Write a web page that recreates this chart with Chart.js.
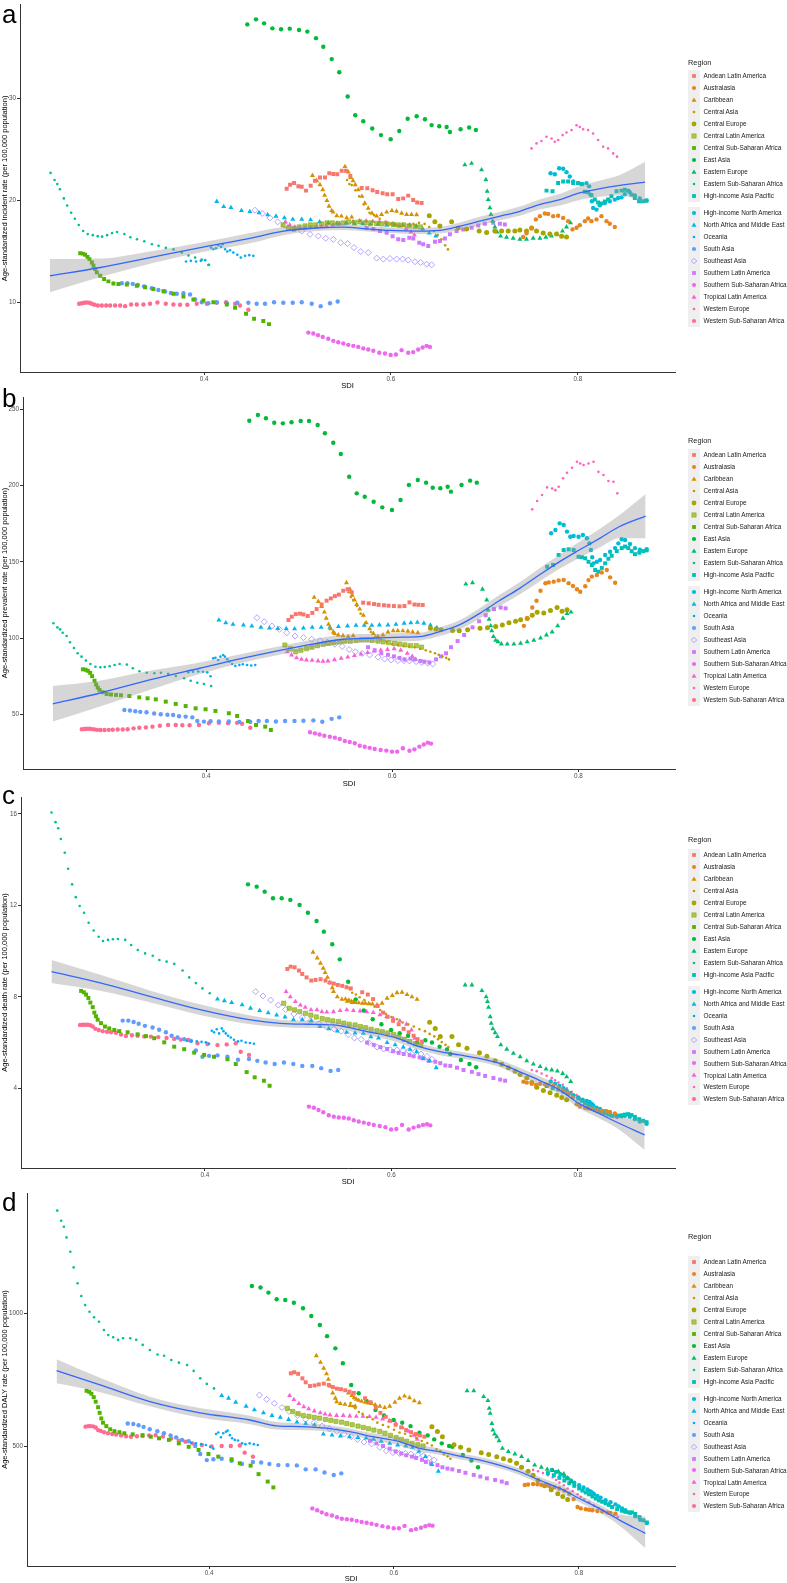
<!DOCTYPE html>
<html>
<head>
<meta charset="utf-8">
<script src="https://cdn.jsdelivr.net/npm/chart.js@4.4.1/dist/chart.umd.min.js"></script>
<style>
  body { margin: 0; background: #fff; width: 787px; height: 1583px; position: relative; overflow: hidden;
         font-family: "Liberation Sans", Arial, sans-serif; }
  canvas { position: absolute; left: 0; }
  .tag { position: absolute; left: 2px; font-size: 26px; line-height: 1; color: #000; }
  .legend { position: absolute; left: 688px; color: #1a1a1a; }
  .legend .ttl { position: absolute; left: 0; font-size: 7.4px; white-space: nowrap; }
  .legend .item { position: absolute; left: 0; height: 12px; white-space: nowrap; font-size: 6.4px; }
  .legend .item svg { position: absolute; left: 0; top: 0; }
  .legend .item span { position: absolute; left: 15.5px; top: 2.2px; }
</style>
</head>
<body>

<canvas id="chartA" width="787" height="392" style="top:0px"></canvas>
<canvas id="chartB" width="787" height="396" style="top:392px"></canvas>
<canvas id="chartC" width="787" height="398" style="top:788px"></canvas>
<canvas id="chartD" width="787" height="397" style="top:1186px"></canvas>

<div class="tag" style="top:1px">a</div>
<div class="tag" style="top:385px">b</div>
<div class="tag" style="top:782px">c</div>
<div class="tag" style="top:1189px">d</div>

<div id="legA" class="legend"></div>
<div id="legB" class="legend"></div>
<div id="legC" class="legend"></div>
<div id="legD" class="legend"></div>

<script>
// Regions, colours and shapes
// ///////////////////////////

const regions = ["Andean Latin America", "Australasia", "Caribbean", "Central Asia", "Central Europe",
  "Central Latin America", "Central Sub-Saharan Africa", "East Asia", "Eastern Europe",
  "Eastern Sub-Saharan Africa", "High-income Asia Pacific", "High-income North America",
  "North Africa and Middle East", "Oceania", "South Asia", "Southeast Asia", "Southern Latin America",
  "Southern Sub-Saharan Africa", "Tropical Latin America", "Western Europe", "Western Sub-Saharan Africa"];

const colors = ["#F8766D", "#E7851E", "#D69100", "#C49A00", "#A8A400", "#86AC00", "#53B400", "#00BA38",
  "#00BE6C", "#00C094", "#00C0B8", "#00BCD8", "#00B6EB", "#00ABFD", "#619CFF", "#A58AFF",
  "#CF78FF", "#ED68ED", "#FB61D7", "#FF62BE", "#FF6C91"];

const shapes = ["square", "circle", "triangle", "dot", "bigcircle", "boxsquare", "square", "circle",
  "triangle", "dot", "square", "circle", "triangle", "dot", "circle", "diamond", "square", "circle",
  "triangle", "dot", "circle"];

// SDI of each region (same for every panel)
const sdi = [
  [0.4884,0.4920,0.4963,0.5009,0.5045,0.5091,0.5141,0.5187,0.5241,0.5294,0.5340,0.5383,0.5426,0.5473,0.5519,0.5565,0.5687,0.5747,0.5804,0.5853,0.5911,0.5960,0.6018,0.6078,0.6131,0.6185,0.6238,0.6281,0.6328],
  [0.7415,0.7451,0.7505,0.7551,0.7594,0.7647,0.7682,0.7736,0.7789,0.7843,0.7896,0.7943,0.7986,0.8021,0.8075,0.8110,0.8146,0.8200,0.8253,0.8307,0.8342,0.8396],
  [0.516,0.5205,0.524,0.527,0.529,0.5315,0.5337,0.5366,0.538,0.542,0.547,0.5526,0.558,0.5508,0.5544,0.557,0.5594,0.5618,0.565,0.569,0.572,0.5757,0.5797,0.5847,0.59,0.5954,0.601,0.606,0.6114,0.6168,0.622,0.6275],
  [0.553,0.5555,0.558,0.562,0.566,0.571,0.577,0.582,0.588,0.594,0.600,0.606,0.612,0.618,0.624,0.630,0.636,0.641,0.646,0.650,0.654,0.658,0.661],
  [0.641,0.647,0.6524,0.6649,0.672,0.681,0.6944,0.7024,0.7112,0.7184,0.7255,0.7326,0.738,0.7451,0.7505,0.7558,0.7629,0.7701,0.7772,0.7826,0.7879],
  [0.4846,0.4905,0.4962,0.5018,0.508,0.5137,0.5195,0.5258,0.5316,0.5372,0.5433,0.549,0.5548,0.5611,0.5668,0.5725,0.5783,0.5846,0.5902,0.5961,0.6024,0.608,0.6137,0.6196,0.6258,0.6315],
  [0.2674,0.2703,0.2727,0.2752,0.2773,0.2799,0.2816,0.2834,0.2852,0.2888,0.2930,0.2976,0.3030,0.3083,0.3173,0.3280,0.3369,0.3458,0.3565,0.3672,0.3779,0.3886,0.3993,0.4099,0.4243,0.4332,0.4449,0.4535,0.4634,0.4695],
  [0.4463,0.4556,0.4642,0.4731,0.4824,0.4917,0.5016,0.5105,0.5198,0.5276,0.5366,0.5447,0.5537,0.5618,0.5704,0.58,0.5893,0.5997,0.6089,0.6179,0.6275,0.6364,0.6435,0.6517,0.6596,0.6631,0.6745,0.6837,0.6909],
  [0.6791,0.6863,0.697,0.7016,0.703,0.7041,0.7059,0.707,0.7088,0.7112,0.7137,0.7173,0.7237,0.7308,0.738,0.7451,0.7522,0.7594,0.7658,0.7719,0.7779,0.7836,0.7879,0.7922],
  [0.2357,0.2400,0.2429,0.2457,0.2499,0.2535,0.2578,0.2617,0.2659,0.2706,0.2755,0.2809,0.2862,0.2909,0.2962,0.3015,0.3069,0.3147,0.3211,0.3282,0.3360,0.3442,0.3513,0.3591,0.3673,0.3762,0.3833,0.3904,0.3975,0.4053],
  [0.7665,0.7729,0.7789,0.7843,0.7896,0.795,0.8003,0.8039,0.8075,0.811,0.8146,0.8182,0.8217,0.8253,0.8289,0.8324,0.836,0.8414,0.8467,0.8503,0.8538,0.8574,0.861,0.8656,0.8699,0.8735],
  [0.7708,0.7754,0.78,0.7843,0.7879,0.7914,0.795,0.8003,0.805,0.8093,0.8121,0.8136,0.815,0.8164,0.82,0.8235,0.8289,0.8342,0.8396,0.8431,0.8467,0.8503,0.8556,0.861,0.8663,0.8735],
  [0.4136,0.421,0.4288,0.44,0.449,0.4588,0.468,0.477,0.486,0.495,0.5045,0.514,0.5236,0.533,0.5421,0.5519,0.561,0.5699,0.578,0.5862,0.5954,0.604,0.6128,0.62,0.627,0.634,0.641,0.648],
  [0.3807,0.3858,0.3914,0.3965,0.4011,0.4046,0.4075,0.4099,0.4128,0.4153,0.4182,0.42,0.4225,0.4249,0.4278,0.4313,0.4356,0.4393,0.4439,0.4484,0.4527],
  [0.3120,0.3180,0.3237,0.3291,0.3358,0.3440,0.3511,0.3583,0.3644,0.3708,0.3779,0.3850,0.3904,0.3975,0.4046,0.4136,0.4243,0.4356,0.4474,0.4563,0.4652,0.4749,0.4848,0.4949,0.5045,0.5152,0.5248,0.5348,0.5430],
  [0.4545,0.4623,0.4706,0.4788,0.4866,0.4955,0.5045,0.5134,0.5223,0.5302,0.5383,0.5462,0.5537,0.5604,0.5676,0.5757,0.5847,0.5918,0.5989,0.6061,0.6125,0.6185,0.6257,0.6318,0.6382,0.6435],
  [0.574,0.5811,0.5882,0.5954,0.6018,0.6078,0.6132,0.6196,0.6239,0.6303,0.6345,0.6399,0.6471,0.6524,0.6578,0.6631,0.6703,0.6773,0.6863,0.6934,0.7005,0.7094,0.7166,0.7219],
  [0.5116,0.5169,0.5219,0.527,0.5329,0.5383,0.5436,0.549,0.5543,0.5597,0.565,0.5704,0.5757,0.5811,0.5875,0.5936,0.5997,0.6053,0.6114,0.6185,0.6238,0.6292,0.6339,0.6382,0.6417],
  [0.4871,0.4917,0.4971,0.5024,0.5077,0.5138,0.5202,0.5255,0.5308,0.5379,0.5451,0.5522,0.5593,0.5664,0.5735,0.5806,0.5877,0.5949,0.602,0.6091,0.6162,0.6215,0.6251],
  [0.7505,0.7558,0.7611,0.7665,0.7719,0.7754,0.779,0.7837,0.7879,0.7933,0.7986,0.8021,0.8057,0.811,0.8164,0.8217,0.8271,0.8324,0.8378,0.842],
  [0.2663,0.2692,0.2717,0.2745,0.2773,0.2799,0.2827,0.2863,0.2906,0.2952,0.2995,0.3048,0.3102,0.3155,0.3219,0.3280,0.3351,0.3422,0.3501,0.3590,0.3672,0.3743,0.3821,0.3922,0.4029,0.4136,0.4235,0.4332,0.4385,0.4474]
];

// a: incidence
const incidence = [
  [21.15,21.54,21.7,21.38,21.35,20.96,21.44,21.93,22.25,22.25,22.67,22.6,22.57,22.9,22.9,22.4,21.21,21.2,21.0,20.83,20.7,20.6,20.6,20.14,20.2,20.47,20.05,19.8,19.75],
  [16.42,16.78,17.26,18.14,18.46,18.72,18.68,18.46,18.5,18.29,17.97,17.16,17.32,17.58,17.97,18.23,17.97,18.14,18.46,17.97,17.71,17.39],
  [22.45,21.93,21.54,21.05,20.5,19.98,19.43,19.0,18.85,18.5,18.46,18.29,18.36,23.32,22.77,22.25,21.93,21.54,21.05,20.4,19.73,19.24,18.75,18.46,18.62,18.85,19.0,18.94,18.75,18.62,18.62,18.6],
  [22.0,21.6,21.5,21.0,20.4,19.6,18.8,18.56,18.2,17.9,17.7,17.6,17.5,17.6,17.7,17.8,17.7,17.4,17.0,16.6,16.2,15.6,15.2],
  [18.5,17.9,17.5,17.9,17.3,17.2,17.0,16.85,17.0,17.0,17.0,17.0,17.1,17.0,17.3,17.0,16.8,16.7,16.7,16.5,16.42],
  [17.6,17.3,17.2,17.4,17.5,17.6,17.6,17.7,17.8,17.8,17.75,17.8,17.9,17.85,17.9,17.8,17.8,17.75,17.7,17.7,17.65,17.6,17.6,17.5,17.45,17.4],
  [14.83,14.79,14.67,14.47,14.25,13.92,13.6,13.27,12.95,12.62,12.3,12.07,11.87,11.82,11.75,11.65,11.49,11.33,11.1,10.85,10.58,10.29,10.19,10.03,9.8,9.48,8.9,8.41,8.18,7.88],
  [37.25,37.74,37.35,36.86,36.77,36.83,36.7,36.54,35.9,35.06,33.85,32.56,30.19,28.35,27.76,27.05,26.4,26.0,26.8,28.0,28.25,27.96,27.38,27.27,27.2,26.7,26.98,27.14,26.9],
  [23.48,23.64,23.0,22.03,20.89,20.08,19.27,18.62,17.97,17.4,16.9,16.51,16.4,16.3,16.2,16.2,16.3,16.3,16.4,16.5,16.7,17.0,17.4,17.8],
  [22.7,22.0,21.6,21.1,20.2,19.5,18.8,18.2,17.6,17.0,16.7,16.6,16.5,16.45,16.6,16.8,16.9,16.7,16.4,16.2,16.0,15.7,15.55,15.35,15.2,14.9,14.6,14.4,14.2,13.7],
  [20.96,20.89,21.7,21.86,21.86,21.7,21.7,21.6,20.85,20.8,20.5,20.1,19.8,19.7,19.9,20.1,20.4,20.89,20.96,21.05,20.96,20.57,20.24,19.92,19.92,19.98],
  [22.67,22.57,23.16,23.1,22.77,22.35,21.86,21.7,21.6,21.7,21.38,20.57,19.92,19.27,19.1,19.53,19.75,19.92,20.08,20.24,20.3,20.6,20.8,20.5,20.2,20.0],
  [19.9,19.4,19.3,19.0,18.9,18.8,18.6,18.45,18.3,18.15,18.15,18.1,17.9,17.8,17.75,17.75,17.7,17.7,17.65,17.65,17.6,17.6,17.6,17.6,17.5,17.2,16.8,16.5],
  [14.02,14.08,14.02,14.08,14.15,13.67,15.38,15.22,15.32,15.61,15.45,15.71,15.22,14.99,15.12,14.89,14.67,14.4,14.57,14.64,14.57],
  [11.88,11.88,11.82,11.72,11.58,11.39,11.23,11.07,10.94,10.85,10.9,10.78,10.29,10.03,9.93,10.03,9.93,9.97,9.97,9.87,9.87,10.03,9.97,9.97,10.03,9.87,9.64,9.93,10.1],
  [19.04,18.72,18.29,17.9,17.58,17.22,17.0,16.68,16.51,16.29,16.19,15.86,15.77,15.38,14.99,14.89,14.35,14.25,14.31,14.25,14.25,14.15,13.99,13.92,13.76,13.69],
  [17.3,17.2,17.0,16.84,16.5,16.19,16.12,16.35,16.26,15.86,15.71,15.54,15.96,16.03,16.26,16.68,17.0,17.16,17.32,17.55,17.71,17.81,17.71,17.65],
  [7.05,6.96,6.8,6.63,6.45,6.24,6.1,5.98,5.85,5.75,5.65,5.5,5.4,5.27,5.08,5.0,4.85,4.9,5.33,5.07,5.14,5.4,5.59,5.75,5.65],
  [17.9,17.6,17.4,17.3,17.3,17.35,17.4,17.45,17.5,17.6,17.7,17.8,17.9,18.0,18.0,17.95,17.9,17.8,17.7,17.5,17.2,16.9,16.6],
  [25.1,25.59,25.82,26.24,26.07,25.75,25.92,26.4,26.66,26.89,27.37,27.2,26.98,26.89,26.56,25.92,25.26,25.1,24.61,24.29],
  [9.87,9.93,9.97,10.0,9.97,9.87,9.78,9.71,9.71,9.71,9.71,9.71,9.71,9.64,9.81,9.81,9.81,9.87,10.0,9.87,9.81,9.78,9.78,9.87,9.87,9.97,10.03,9.87,9.71,9.29]
];

// b: prevalence
const prevalence = [
  [111.8,114,115.7,116,115.5,114.5,116.5,119,122,124.5,126,127.5,128.5,131,132,130,123.2,122.8,122.3,121.8,121.5,121.2,121,120.8,121,123.4,122,121.8,121.7],
  [108,113,120,124.5,131,135.9,136.5,137,137.8,138.1,136,134.1,132,130.4,134,138,140.3,141.3,143,144.6,139.8,136.3],
  [126.7,124,120.6,117,113,109,106,104,103,102,101.5,101,101.5,136.3,132,128,125,122,119,115,110,106,103,101,102,104,104.8,104.8,104.7,104.5,104,103.5],
  [130,127,125,121,116,110,104,101,99,97.5,96,95.5,95,94.5,94,93,92,91,90,89,88,87,86],
  [106.4,106,105.5,105,104.8,105.5,106.4,106.8,107.5,108.5,110,111,112,112.9,115,117,116.5,118,120,117.5,118.5],
  [95.4,93,91,92,93,94,95,96,96.5,97,97.5,98,98,98.5,99,99,98.5,98,97.5,97,96.5,96,95.5,95,95,94],
  [79.5,79.2,78.5,77.2,75,72,69.5,67.5,66,64.5,63.3,63,62.7,62.5,62,61.1,60.5,59.8,58.3,56.8,55.4,53.9,53.3,52.2,50.7,48.9,45.6,43,41.9,39.7],
  [242.5,246.3,244.1,241.2,240.8,241.5,242.3,242.3,239.7,234.3,228.1,220.7,205.8,194.9,192.7,189.4,185.7,184,190.5,200.4,203.6,201.9,198.6,198.2,199.2,196,200.4,203.2,201.9],
  [135.4,136.3,132,125,118.4,112.3,108,104.8,101,98.5,97.6,96.1,96,96,96.5,97.5,98.5,100,102,104,108,113,116,117],
  [109.7,107,105.7,103.5,101.3,97.2,93.5,90,87.8,85.2,83,81.2,80.9,81,81.5,82.3,83,82.6,80.2,78.2,77.2,76.9,77.2,76.5,75.1,73.6,72,70.7,69.9,68.5],
  [146.8,147.9,154.5,157.7,158.2,157.7,153.3,153,152.3,150,147.9,144.6,143.5,146,149,152,154,157,159,160,159,157,155,156,157,157.5],
  [168.7,170.9,175.2,174.1,169.8,166.4,166.9,166.4,167.6,165.4,162.1,157.7,153,149,150,151.2,154.5,156.6,159,162.1,164.8,164.3,161.7,159,158,158.2],
  [111.8,110,109,108.5,107.8,107,106.5,106.3,106.2,106,106.5,107,107,107,107.5,107.9,108.3,108.3,108.3,108.6,108.6,109,109.7,110,110.3,109.7,108.5,106.8],
  [77.5,77.9,78.1,77.9,77.5,75,86.7,87.1,85.6,87.8,88.9,87.8,86.1,84.6,83.0,81.7,82.3,82.8,82.3,82.0,82.3],
  [52.8,52.5,52,51.6,51.3,50.5,50,49.7,49.5,48.7,48.5,48,45.6,45.2,45.5,45.3,45.3,45,45,45.6,45.6,45.3,45.6,45.6,45.8,46,45.1,47,48],
  [113.3,110.7,107.9,105.7,103.5,101.3,100.3,99.2,98.3,97.3,96,94.5,92.5,91,89.9,88.9,87.5,86.3,85.6,85.2,85.2,85,84.5,84,83.5,83.0],
  [94,92,90,89,88,87,86,86.5,86,85,84.5,84,86,88,90,94,98,102,107,111,115,119,120,119.5],
  [38.2,37.5,36.8,35.9,35.3,34.7,33.8,32.5,31.8,31,29.4,28.7,28,27.2,26.6,26.2,25.5,25.5,27.7,26.1,27,28.8,30.2,31.4,30.8],
  [91,88.9,87,86,85.6,85.4,85,84.8,85,85.8,86.7,87.5,88.5,89.5,90.5,91.5,92,92.5,93,92,90,88,86],
  [184.4,189.9,193.8,198.8,198,197,199.2,204.8,208.4,211.7,215.6,214.5,213.5,214.5,215.6,209,206.9,203,202.5,194.9],
  [40.2,40.4,40.5,40.5,40.3,40.1,39.8,39.7,39.7,39.8,39.9,40,40,40.2,40.8,41.2,41.4,41.9,42.5,43,43,42.8,42.8,43,44.1,44.4,44.2,44.4,43.8,41.2]
];

// c: death
const death = [
  [9.22,9.32,9.29,9.15,9.0,8.85,8.71,8.74,8.77,8.71,8.62,8.58,8.52,8.48,8.42,8.37,8.2,8.1,7.9,7.6,7.31,7.13,6.95,6.8,6.6,6.45,6.3,6.15,6.04],
  [4.29,4.25,4.2,4.15,4.2,4.18,4.15,4.1,4.0,3.9,3.8,3.6,3.3,3.2,3.15,3.12,3.1,3.05,3.02,3.0,2.95,2.9],
  [9.95,9.7,9.47,9.25,9.06,8.85,8.62,8.4,8.23,8.0,7.89,7.8,7.75,7.9,7.85,7.8,7.78,7.75,7.74,7.72,7.72,7.7,7.68,7.65,7.72,7.94,8.06,8.18,8.2,8.1,8.0,7.89],
  [8.4,8.32,8.18,8.1,7.98,7.86,7.7,7.57,7.42,7.26,7.12,7.02,6.88,6.8,6.7,6.58,6.5,6.38,6.27,6.15,6.02,5.9,5.8],
  [6.89,6.62,6.26,6.26,5.9,5.75,5.55,5.4,5.2,5.05,4.9,4.75,4.6,4.45,4.25,4.05,3.9,3.8,3.7,3.6,3.5],
  [7.72,7.5,7.43,7.35,7.28,7.2,7.12,7.05,7.0,6.95,6.92,6.85,6.8,6.77,6.7,6.65,6.58,6.52,6.48,6.42,6.35,6.25,6.14,6.05,5.95,5.9],
  [8.26,8.2,8.1,7.95,7.75,7.55,7.31,7.15,7.0,6.85,6.7,6.62,6.55,6.5,6.45,6.36,6.28,6.19,6.01,5.82,5.71,5.56,5.46,5.38,5.27,5.06,4.71,4.48,4.33,4.11],
  [12.92,12.82,12.6,12.31,12.31,12.24,12.02,11.68,11.32,10.85,10.3,9.64,8.66,7.89,7.4,7.02,6.8,6.55,6.41,6.3,6.0,6.1,6.0,5.82,5.7,5.5,5.24,5.06,4.92],
  [8.52,8.52,8.27,8.0,7.79,7.54,7.13,6.84,6.6,6.43,6.26,5.9,5.71,5.53,5.38,5.2,5.06,4.95,4.84,4.8,4.75,4.65,4.5,4.3],
  [16.06,15.64,15.37,14.9,14.3,13.6,12.92,12.36,11.97,11.68,11.24,10.9,10.63,10.44,10.49,10.52,10.53,10.49,10.27,10.05,9.9,9.8,9.61,9.54,9.44,9.15,8.85,8.6,8.37,8.16],
  [4.1,4.0,3.95,3.85,3.75,3.65,3.55,3.45,3.35,3.25,3.15,3.05,3.0,2.95,2.9,2.85,2.8,2.78,2.82,2.85,2.87,2.83,2.75,2.65,2.58,2.52],
  [4.3,4.2,4.1,4.0,3.9,3.8,3.7,3.6,3.5,3.45,3.4,3.35,3.3,3.25,3.15,3.1,3.0,2.95,2.85,2.8,2.78,2.8,2.75,2.65,2.55,2.45],
  [7.9,7.83,7.75,7.65,7.5,7.4,7.3,7.2,7.12,7.0,7.0,6.95,6.7,6.6,6.5,6.45,6.42,6.4,6.25,6.2,6.0,5.9,5.8,5.7,5.6,5.3,5.2,4.9],
  [6.08,6.06,6.06,6.03,6.01,5.95,6.52,6.45,6.58,6.4,6.62,6.5,6.4,6.3,6.22,6.12,6.05,6.08,6.0,5.98,5.95],
  [6.96,6.96,6.9,6.82,6.73,6.66,6.56,6.45,6.3,6.22,6.15,6.08,5.65,5.38,5.42,5.44,5.38,5.25,5.28,5.2,5.13,5.06,5.13,5.06,4.98,4.98,4.88,4.76,4.8],
  [8.23,8.04,7.86,7.64,7.45,7.25,7.1,6.95,6.82,6.7,6.6,6.5,6.35,6.2,6.14,6.0,5.8,5.72,5.68,5.68,5.65,5.63,5.6,5.5,5.4,5.27],
  [6.0,5.9,5.8,5.72,5.62,5.55,5.5,5.45,5.4,5.35,5.31,5.2,5.16,5.1,5.0,4.98,4.9,4.8,4.72,4.62,4.54,4.45,4.38,4.33],
  [3.2,3.15,3.05,2.95,2.82,2.76,2.72,2.71,2.68,2.6,2.55,2.5,2.45,2.4,2.35,2.3,2.2,2.22,2.4,2.2,2.28,2.34,2.4,2.43,2.38],
  [8.23,8.0,7.79,7.64,7.54,7.43,7.43,7.35,7.33,7.35,7.4,7.43,7.4,7.38,7.35,7.31,7.21,7.13,7.06,6.95,6.8,6.55,6.19],
  [4.8,4.75,4.65,4.55,4.45,4.35,4.25,4.15,4.0,3.85,3.7,3.55,3.45,3.35,3.2,3.05,2.95,2.85,2.75,2.7],
  [6.77,6.78,6.78,6.78,6.76,6.7,6.6,6.55,6.5,6.47,6.45,6.43,6.35,6.29,6.32,6.3,6.27,6.26,6.24,6.2,6.16,6.13,6.11,5.97,5.94,5.89,5.92,5.97,5.6,5.46]
];

// d: DALY
const daly = [
  [774,778,772,755,740,726,728,732,735,730,722,716,714,710,705,700,680,665,645,625,610,595,580,570,560,552,545,540,535],
  [353,355,357,356,354,352,348,345,340,332,320,300,270,265,262,260,258,255,253,250,248,245],
  [840,815,793,772,751,725,700,680,667,660,657,652,650,700,690,682,676,672,668,665,662,660,655,650,645,650,665,680,688,682,670,663],
  [662,651,642,628,621,608,601,588,579,572,561,551,546,538,531,519,511,502,488,481,469,461,452],
  [573,555,535,505,495,485,475,468,460,452,445,435,420,405,390,370,350,335,320,310,298],
  [642,630,622,615,612,608,605,600,597,593,590,585,580,575,570,565,560,555,548,540,532,525,518,510,505,500],
  [708,704,697,684,667,646,625,604,588,575,563,556,552,548,544,541,535,529,523,510,497,485,470,460,450,435,426,394,366,344],
  [1103,1097,1078,1053,1050,1040,1019,990,956,914,868,812,730,699,670,636,615,598,588,575,550,540,525,510,500,497,466,445,420],
  [708,708,686,671,642,623,585,560,545,535,520,491,479,470,460,445,428,420,412,408,404,395,380,365],
  [1387,1349,1326,1286,1232,1173,1113,1065,1031,1006,985,968,937,918,910,900,906,906,900,881,862,845,840,824,814,805,783,755,734,717],
  [398,390,380,370,360,350,340,332,325,318,310,302,295,290,284,278,270,262,256,252,250,250,244,232,220,212],
  [410,402,394,386,378,370,362,352,344,336,330,326,322,318,312,305,296,288,280,272,265,258,248,235,222,210],
  [690,680,665,650,636,625,615,608,600,590,585,580,545,541,538,535,532,530,525,518,510,504,500,495,480,460,430,405],
  [512,510,507,504,497,490,545,551,533,548,554,558,541,529,523,521,510,507,510,507,504],
  [585,583,578,572,563,556,548,540,532,523,518,500,470,447,450,452,444,432,440,438,432,428,428,427,412,412,400,391,397],
  [692,676,661,645,630,615,600,588,576,565,555,545,535,525,515,508,495,482,475,472,472,470,467,463,455,447],
  [520,510,500,490,480,472,465,460,455,448,440,435,428,420,415,412,406,399,391,385,378,372,366,360],
  [265,258,250,243,238,232,226,224,222,218,214,211,207,203,198,194,190,190,199,183,187,192,198,202,200],
  [690,675,660,648,640,632,625,620,617,615,615,613,612,612,611,608,602,595,585,570,555,540,525],
  [410,405,398,390,382,372,362,352,340,330,318,308,298,288,276,265,255,246,238,232],
  [573,575,575,574,570,560,557,552,548,545,543,540,537,535,537,538,540,541,536,528,520,516,510,504,498,500,500,502,475,460]
];

// Smoothed fit and its confidence band, per panel
const smoothSdiA = [0.235,0.289,0.342,0.396,0.449,0.485,0.52,0.549,0.574,0.599,0.631,0.652,0.674,0.695,0.717,0.738,0.759,0.781,0.802,0.824,0.845,0.872];
const smoothA = [12.62,13.43,14.4,15.38,16.29,17.0,17.3,17.39,17.22,17.06,17.0,17.07,17.49,17.97,18.46,18.94,19.6,20.08,20.73,21.15,21.47,21.79];
const lowerA = [11.0,12.5,13.8,14.9,15.8,16.6,17.0,17.1,16.95,16.8,16.7,16.75,17.1,17.55,18.05,18.5,19.1,19.5,20.05,20.35,20.5,19.75];
const upperA = [14.25,14.3,15.0,15.85,16.8,17.4,17.6,17.7,17.5,17.35,17.3,17.4,17.85,18.4,18.9,19.4,20.1,20.65,21.4,21.95,22.5,23.8];

const smoothSdiB = [0.235,0.285,0.339,0.393,0.447,0.5,0.547,0.572,0.604,0.629,0.651,0.672,0.694,0.715,0.737,0.758,0.78,0.801,0.823,0.844,0.8724];
const smoothB = [56.8,63.8,72.5,80.2,87.8,94.4,99.2,99.8,100.5,100.9,104.2,108.6,116.2,124.5,132.6,141.3,150.1,157.7,165.4,173,180];
const lowerB = [45.2,55,66,76.5,85,91.5,96.2,97,97.8,98.3,101.3,105.5,112.8,120.8,128.6,137,145.5,152.5,159.3,165.5,165.4];
const upperB = [68.5,72,78.5,84,90.7,97.3,102.2,102.6,103.2,103.5,107,111.7,119.6,128.2,136.6,145.6,154.7,163,171.5,180.5,194.5];

const smoothSdiC = [0.2357,0.289,0.342,0.396,0.449,0.481,0.51,0.538,0.574,0.606,0.63,0.652,0.673,0.694,0.716,0.737,0.758,0.78,0.801,0.822,0.844,0.8715];
const smoothC = [9.1,8.6,8.01,7.43,6.99,6.84,6.8,6.77,6.48,6.19,5.82,5.6,5.46,5.31,5.09,4.73,4.36,3.93,3.34,2.91,2.47,1.96];
const lowerC = [8.6,8.25,7.75,7.2,6.8,6.68,6.64,6.62,6.32,6.03,5.67,5.45,5.31,5.16,4.93,4.55,4.18,3.75,3.14,2.7,2.2,1.3];
const upperC = [9.61,8.95,8.27,7.66,7.18,7.0,6.96,6.92,6.64,6.35,5.97,5.75,5.61,5.46,5.25,4.91,4.54,4.11,3.54,3.12,2.75,2.61];

const smoothSdiD = [0.235,0.282,0.336,0.39,0.444,0.473,0.498,0.527,0.552,0.577,0.603,0.628,0.649,0.671,0.693,0.714,0.736,0.757,0.779,0.8,0.822,0.844,0.872];
const smoothD = [784,730,667,625,598,576,573,567,554,535,519,491,479,462,447,428,403,372,341,303,265,221,171];
const lowerD = [736,703,650,607,582,562,560,555,542,522,505,478,467,450,435,416,391,360,327,289,250,200,115];
const upperD = [827,757,686,643,614,590,586,580,566,548,533,504,491,474,459,440,415,384,355,317,280,242,234];

// Drawing
// ///////

const fontFamily = '"Liberation Sans", Arial, sans-serif';
const axisColor = '#333333';
const tickColor = '#4D4D4D';

function pointOpts(shape, color) {
  if (shape === 'square') return { pointStyle: 'rect', radius: 2.8, bg: color, border: color, bw: 0 };
  if (shape === 'boxsquare') return { pointStyle: 'rect', radius: 3.0, bg: color + 'AA', border: color, bw: 0.6 };
  if (shape === 'circle') return { pointStyle: 'circle', radius: 2.2, bg: color, border: color, bw: 0 };
  if (shape === 'bigcircle') return { pointStyle: 'circle', radius: 2.5, bg: color, border: color, bw: 0 };
  if (shape === 'triangle') return { pointStyle: 'triangle', radius: 2.9, bg: color, border: color, bw: 0 };
  if (shape === 'diamond') return { pointStyle: 'rectRot', radius: 3.0, bg: 'rgba(0,0,0,0)', border: color, bw: 0.8 };
  return { pointStyle: 'circle', radius: 1.3, bg: color, border: color, bw: 0 };
}

function makePanel(id, values, sx, sy, lo, hi, cfg) {
  const datasets = [];
  regions.forEach((name, i) => {
    const p = pointOpts(shapes[i], colors[i]);
    const pts = [];
    const n = Math.min(sdi[i].length, values[i].length);
    for (let k = 0; k < n; k++) pts.push({ x: sdi[i][k], y: values[i][k] });
    datasets.push({
      label: name, data: pts, order: 3,
      pointStyle: p.pointStyle, pointRadius: p.radius, pointHoverRadius: p.radius,
      backgroundColor: p.bg, borderColor: p.border, borderWidth: p.bw
    });
  });
  const toXY = arr => arr.map((v, k) => ({ x: sx[k], y: v }));
  datasets.push({ type: 'line', label: 'lower', data: toXY(lo), order: 2, pointRadius: 0,
    borderWidth: 0, borderColor: 'rgba(0,0,0,0)', fill: false, cubicInterpolationMode: 'monotone' });
  datasets.push({ type: 'line', label: 'upper', data: toXY(hi), order: 2, pointRadius: 0,
    borderWidth: 0, borderColor: 'rgba(0,0,0,0)', backgroundColor: 'rgba(153,153,153,0.4)',
    fill: '-1', cubicInterpolationMode: 'monotone' });
  datasets.push({ type: 'line', label: 'fit', data: toXY(sy), order: 1, pointRadius: 0,
    borderWidth: 1.3, borderColor: '#3366FF', fill: false, cubicInterpolationMode: 'monotone' });

  new Chart(document.getElementById(id), {
    type: 'scatter',
    data: { datasets: datasets },
    options: {
      responsive: false,
      animation: false,
      devicePixelRatio: 1,
      layout: { padding: { top: cfg.top, right: 112, bottom: 0, left: 0 } },
      plugins: { legend: { display: false }, tooltip: { enabled: false } },
      scales: {
        x: {
          type: 'linear', min: 0.203, max: 0.904,
          afterFit: s => { s.height = cfg.xh; },
          afterBuildTicks: s => { s.ticks = [0.4, 0.6, 0.8].map(v => ({ value: v })); },
          ticks: { callback: v => v.toFixed(1), font: { size: 6.3, family: fontFamily }, color: tickColor, padding: 0.5, maxRotation: 0 },
          grid: { drawOnChartArea: false, drawTicks: true, tickLength: 3, tickColor: axisColor },
          border: { display: true, color: axisColor, width: 1 },
          title: { display: true, text: 'SDI', font: { size: 7.6, family: fontFamily }, color: '#000', padding: { top: 0, bottom: cfg.sdiPad } }
        },
        y: {
          type: 'linear', min: cfg.ymin, max: cfg.ymax,
          afterFit: s => { s.width = cfg.yw; },
          afterBuildTicks: s => { s.ticks = cfg.yticks.map(v => ({ value: v })); },
          ticks: { callback: v => String(v), font: { size: 6.3, family: fontFamily }, color: tickColor, padding: 1 },
          grid: { drawOnChartArea: false, drawTicks: true, tickLength: 3, tickColor: axisColor },
          border: { display: true, color: axisColor, width: 1 },
          title: { display: true, text: cfg.ytitle, font: { size: 7.5, family: fontFamily }, color: '#000', padding: { top: 0.5, bottom: 0 } }
        }
      }
    }
  });
}

makePanel('chartA', incidence, smoothSdiA, smoothA, lowerA, upperA, {
  top: 2, xh: 20, yw: 20, ymin: 3.19, ymax: 39.17, yticks: [10, 20, 30], sdiPad: 1.2,
  ytitle: 'Age-standardized incident rate (per 100,000 population)' });
makePanel('chartB', prevalence, smoothSdiB, smoothB, lowerB, upperB, {
  top: 5, xh: 19, yw: 23, ymin: 14.13, ymax: 258.07, yticks: [50, 100, 150, 200, 250], sdiPad: 0,
  ytitle: 'Age-standardized prevalent rate (per 100,000 population)' });
makePanel('chartC', death, smoothSdiC, smoothC, lowerC, upperC, {
  top: 9, xh: 18, yw: 21, ymin: 0.514, ymax: 16.74, yticks: [4, 8, 12, 16], sdiPad: 0,
  ytitle: 'Age-standardized death rate (per 100,000 population)' });
makePanel('chartD', daly, smoothSdiD, smoothD, lowerD, upperD, {
  top: 7, xh: 17, yw: 27, ymin: 47.9, ymax: 1453.3, yticks: [500, 1000], sdiPad: 0,
  ytitle: 'Age-standardized DALY rate (per 100,000 population)' });

// Legends
// ///////

function keySvg(i) {
  const c = colors[i];
  let mark;
  switch (shapes[i]) {
    case 'square': mark = `<rect x="4.1" y="4.1" width="3.8" height="3.8" fill="${c}"/>`; break;
    case 'boxsquare': mark = `<rect x="3.9" y="3.9" width="4.2" height="4.2" fill="${c}" fill-opacity="0.65" stroke="${c}" stroke-width="0.6"/>`; break;
    case 'circle': mark = `<circle cx="6" cy="6" r="2.1" fill="${c}"/>`; break;
    case 'bigcircle': mark = `<circle cx="6" cy="6" r="2.4" fill="${c}"/>`; break;
    case 'triangle': mark = `<polygon points="6,3.4 8.5,7.7 3.5,7.7" fill="${c}"/>`; break;
    case 'diamond': mark = `<polygon points="6,3.3 8.7,6 6,8.7 3.3,6" fill="none" stroke="${c}" stroke-width="0.8"/>`; break;
    default: mark = `<circle cx="6" cy="6" r="1.3" fill="${c}"/>`;
  }
  return `<svg width="12" height="12"><rect width="12" height="12" fill="#EFEFEF"/>${mark}</svg>`;
}

function buildLegend(id, titleY, firstY) {
  const el = document.getElementById(id);
  el.style.top = (titleY - 5) + 'px';
  let html = `<div class="ttl" style="top:0px">Region</div>`;
  regions.forEach((name, i) => {
    const y = (firstY - titleY) + i * 11.95 + (i >= 11 ? 5.3 : 0) - 1;
    html += `<div class="item" style="top:${y.toFixed(1)}px">${keySvg(i)}<span>${name}</span></div>`;
  });
  el.innerHTML = html;
}

buildLegend('legA', 62.7, 76.3);
buildLegend('legB', 441.2, 455.3);
buildLegend('legC', 840, 855);
buildLegend('legD', 1237, 1262);
</script>
</body>
</html>
